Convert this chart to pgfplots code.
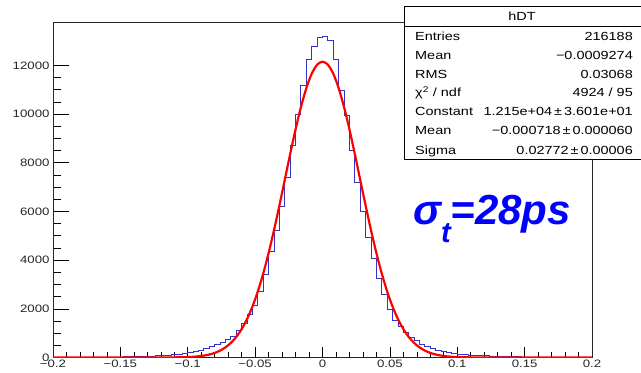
\documentclass[border=0pt]{standalone}
\usepackage{fontspec}
\setmainfont{Liberation Sans}[FakeStretch=1.23]
\newfontfamily\sigmafont{Liberation Sans}
\usepackage{pgfplots}
\pgfplotsset{compat=1.18}
\usepackage{pgfplotstable}
\definecolor{histblue}{rgb}{0.2,0.2,0.78}

\pgfplotstableread{
x y
-0.200 2
-0.196 2
-0.192 3
-0.188 4
-0.184 5
-0.180 6
-0.176 7
-0.172 8
-0.168 10
-0.164 12
-0.160 15
-0.156 18
-0.152 21
-0.148 25
-0.144 30
-0.140 35
-0.136 42
-0.132 50
-0.128 60
-0.124 72
-0.120 85
-0.116 100
-0.112 120
-0.108 145
-0.104 175
-0.100 215
-0.096 260
-0.092 310
-0.088 370
-0.084 440
-0.080 520
-0.076 620
-0.072 740
-0.068 880
-0.064 1100
-0.060 1400
-0.056 1750
-0.052 2150
-0.048 2700
-0.044 3430
-0.040 4370
-0.036 5200
-0.032 6200
-0.028 7400
-0.024 8700
-0.020 10000
-0.016 11180
-0.012 12230
-0.008 12780
-0.004 13140
0.000 13170
0.004 13030
0.008 12230
0.012 10970
0.016 9950
0.020 8500
0.024 7200
0.028 6000
0.032 4950
0.036 4070
0.040 3250
0.044 2570
0.048 1980
0.052 1540
0.056 1290
0.060 1020
0.064 830
0.068 690
0.072 550
0.076 450
0.080 370
0.084 300
0.088 250
0.092 205
0.096 170
0.100 140
0.104 118
0.108 100
0.112 86
0.116 74
0.120 64
0.124 55
0.128 47
0.132 40
0.136 34
0.140 29
0.144 25
0.148 21
0.152 17
0.156 15
0.160 12
0.164 10
0.168 9
0.172 7
0.176 6
0.180 5
0.184 4
0.188 3
0.192 3
0.196 2
0.200 2
}\histdata

\pgfplotstableread{
x y
-0.200 0
-0.140 0
-0.120 1
-0.110 5
-0.100 18
-0.096 30
-0.092 49
-0.088 79
-0.084 123
-0.080 189
-0.076 283
-0.072 416
-0.068 600
-0.064 845
-0.060 1168
-0.056 1579
-0.052 2091
-0.048 2713
-0.044 3447
-0.040 4290
-0.036 5228
-0.032 6240
-0.028 7295
-0.024 8352
-0.020 9366
-0.016 10286
-0.012 11063
-0.008 11654
-0.004 12024
0.000 12150
0.004 12024
0.008 11654
0.012 11063
0.016 10286
0.020 9366
0.024 8352
0.028 7295
0.032 6240
0.036 5228
0.040 4290
0.044 3447
0.048 2713
0.052 2091
0.056 1579
0.060 1168
0.064 845
0.068 600
0.072 416
0.076 283
0.080 189
0.084 123
0.088 79
0.092 49
0.096 30
0.100 18
0.110 5
0.120 1
0.140 0
0.200 0
}\fitdata

\newcommand{\sfs}{\fontsize{11.75bp}{14bp}\selectfont}

\begin{document}
\begin{tikzpicture}
\pgfplotsset{
  common/.style={
    at={(53bp,15.5bp)}, anchor=south west,
    scale only axis, width=539bp, height=335.5bp,
    xmin=-0.2, xmax=0.2, ymin=0, ymax=13780,
    xtick={-0.2,-0.15,-0.1,-0.05,0,0.05,0.1,0.15,0.2},
    minor x tick num=4,
    tick align=inside, tick pos=left,
    scaled y ticks=false, scaled x ticks=false,
    clip=true,
  }
}
% x ticks only
\begin{axis}[common,
  xticklabels={},
  ytick=\empty, minor y tick num=0,
  major tick length=10bp, minor tick length=5bp,
  axis line style={draw=none},
  every tick/.style={black, line width=0.6bp},
]
\end{axis}
% main axis
\begin{axis}[common,
  xticklabels={−0.2,−0.15,−0.1,−0.05,0,0.05,0.1,0.15,0.2},
  ytick={0,2000,4000,6000,8000,10000,12000},
  yticklabels={0,2000,4000,6000,8000,10000,12000},
  minor y tick num=3,
  major tick length=16bp, minor tick length=8bp,
  major x tick style={draw=none}, minor x tick style={draw=none},
  every tick/.style={black, line width=0.6bp},
  ticklabel style={font=\fontsize{10.75bp}{12bp}\selectfont, text=black!85},
  xticklabel style={yshift=1.5bp},
  axis line style={line width=0.8bp, black!85},
]
\addplot[const plot mark left, histblue, line width=0.9bp] table {\histdata};
\addplot[smooth, red, line width=2.2bp] table {\fitdata};
\end{axis}

% stats box
\draw[line width=0.8bp, fill=white] (404bp,213.7bp) rectangle (643bp,366.3bp);
\draw[line width=0.8bp] (404bp,346.3bp) -- (643bp,346.3bp);
\node[anchor=base, inner sep=0] at (522bp,352.1bp) {\sfs hDT};
\foreach \lab/\val/\yy in {Entries/216188/332.8, Mean/−0.0009274/313.8, RMS/0.03068/294.8,
  {χ\textsuperscript{2} / ndf}/{4924 / 95}/276.1,
  Constant/{1.215e+04\,±\,3.601e+01}/257.1,
  Mean/{−0.000718\,±\,0.000060}/238.1,
  Sigma/{0.02772\,±\,0.00006}/218.8}{
  \node[anchor=base west, inner sep=0] at (415bp,\yy bp) {\sfs \lab};
  \node[anchor=base east, inner sep=0] at (633bp,\yy bp) {\sfs \val};
}

% sigma_t annotation
\node[anchor=base west, inner sep=0, text=blue] at (413bp,148bp)
  {\sigmafont\bfseries\itshape\fontsize{42bp}{42bp}\selectfont σ\raisebox{-18bp}{\fontsize{29bp}{29bp}\selectfont t}=28ps};

\pgfresetboundingbox
\useasboundingbox (0,0) rectangle (641bp,373bp);
\end{tikzpicture}
\end{document}
